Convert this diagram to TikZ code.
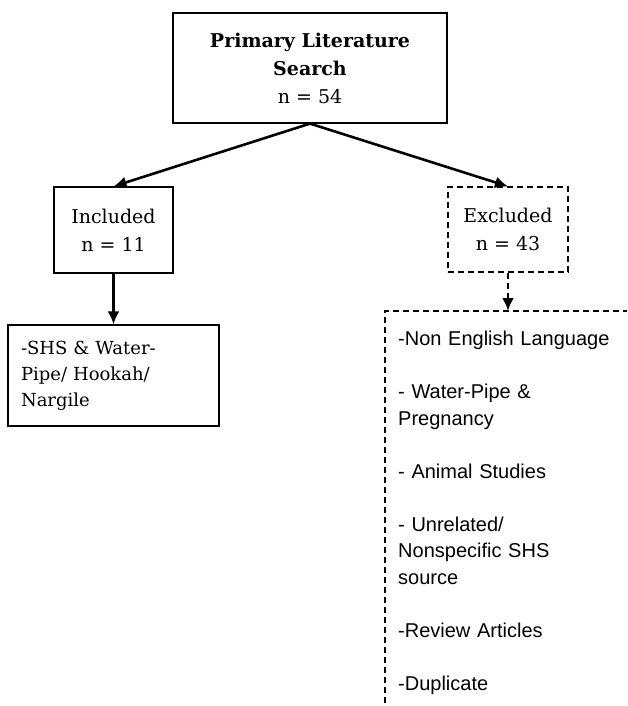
\documentclass[tikz,border=0pt]{standalone}
\usepackage{fontspec}
\setmainfont{DejaVu Serif}
\newfontfamily\listfont{Liberation Sans}
\usetikzlibrary{arrows.meta,positioning}

\begin{document}
\begin{tikzpicture}[
    x=1pt, y=-1pt,
    box/.style={rectangle, draw, line width=1.2pt, align=center, font=\fontsize{19}{28}\selectfont},
    dashbox/.style={box, dash pattern=on 6pt off 4pt},
    arrow/.style={->, line width=2.6pt, >={Latex[length=13pt,width=12pt]}}
]
\useasboundingbox (0,0) rectangle (627,706);

\node[box, minimum width=274pt, minimum height=110pt] (search) at (310,68) {\textbf{Primary Literature}\\\textbf{Search}\\n = 54};
\node[box, minimum width=119pt, minimum height=86pt] (incl) at (113.5,230) {Included\\n = 11};
\node[dashbox, minimum width=120pt, minimum height=85pt] (excl) at (508,229.5) {Excluded\\n = 43};
\node[box, minimum width=211pt, minimum height=101pt, align=left, text width=185pt, inner xsep=13pt, font=\fontsize{18}{26}\selectfont] (inlist) at (113.5,375.5) {-SHS \& Water-\\Pipe/ Hookah/\\Nargile};
\node[anchor=north west, minimum width=242pt, align=left, text width=216pt, inner xsep=13pt, inner ysep=20pt, font=\listfont\fontsize{20}{26.5}\selectfont] (exlist) at (385,311) {-Non English Language\\[26.5pt]- Water-Pipe \&\\Pregnancy\\[26.5pt]- Animal Studies\\[26.5pt]- Unrelated/\\Nonspecific SHS\\source\\[26.5pt]-Review Articles\\[26.5pt]-Duplicate};
\coordinate (listend) at (385,703);

\draw[line width=1.2pt, dash pattern=on 6pt off 4pt] (listend) -- (exlist.north west) -- (exlist.north east);

\draw[arrow] (search.south) -- (incl.north);
\draw[arrow] (search.south) -- (excl.north);
\draw[arrow] (incl) -- (inlist);
\draw[arrow, dash pattern=on 6pt off 4pt] (excl.south) -- (excl.south |- exlist.north);

\end{tikzpicture}
\end{document}
